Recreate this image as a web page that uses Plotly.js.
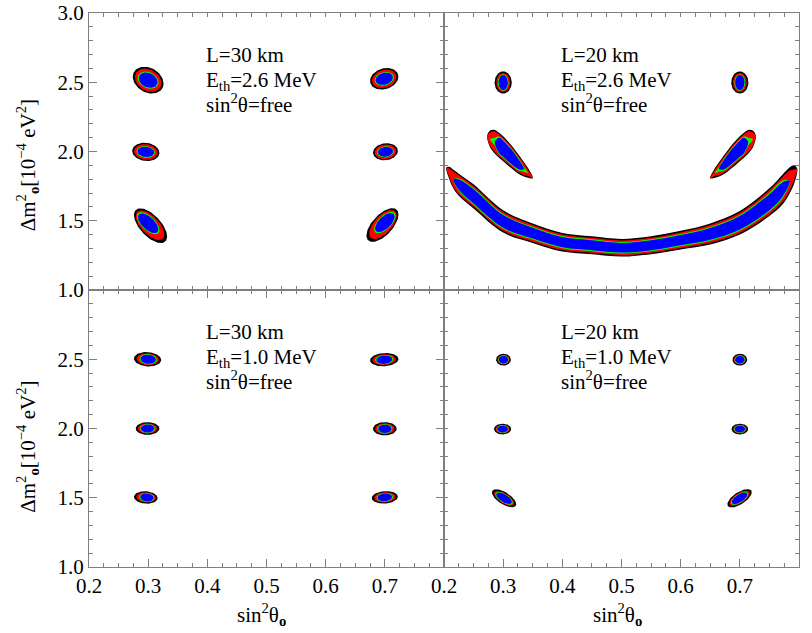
<!DOCTYPE html>
<html><head><meta charset="utf-8">
<script src="https://cdn.plot.ly/plotly-3.0.1.min.js"></script>
<style>body{margin:0;background:#fff}#chart{width:812px;height:633px}</style>
</head><body><div id="chart"></div>
<script>
// ---------------- DATA ----------------
// confidence levels, outermost first
const levelNames = ['99.73% CL', '99% CL', '95% CL', '90% CL'];
const levelColors = ['#000000', '#ff0000', '#00ff00', '#0000ff'];

// panel captions
const panelL = ['L=30 km', 'L=20 km', 'L=30 km', 'L=20 km'];
const panelE = ['2.6', '2.6', '1.0', '1.0'];

// axis ticks
const xTickVals = [0.2, 0.3, 0.4, 0.5, 0.6, 0.7, 0.8];
const xTickTextLeft = ['0.2', '0.3', '0.4', '0.5', '0.6', '0.7', ''];
const xTickTextRight = ['0.2', '0.3', '0.4', '0.5', '0.6', '0.7', '0.8'];
const yTickVals = [1.0, 1.5, 2.0, 2.5, 3.0];
const yTickTextTop = ['1.0', '1.5', '2.0', '2.5', '3.0'];
const yTickTextBottom = ['1.0', '1.5', '2.0', '2.5', ''];

// isolated allowed islands: [sin2θ, Δm², outer half-width in sin2θ, outer half-height in Δm², tilt corr, outer-centre shift sin2θ, outer-centre shift Δm²]
const islands_L30_E26 = [
  [0.300, 2.515, 0.026, 0.097, -0.25, 0.000, 0.000],
  [0.296, 1.997, 0.023, 0.066, -0.10, 0.000, 0.000],
  [0.300, 1.482, 0.028, 0.125, -0.62, 0.004, -0.018],
  [0.699, 2.525, 0.024, 0.078, 0.20, 0.000, 0.000],
  [0.701, 1.998, 0.021, 0.062, 0.10, 0.000, 0.000],
  [0.700, 1.487, 0.027, 0.122, 0.62, -0.004, -0.018]
];
const islands_L20_E26 = [
  [0.300, 2.498, 0.0145, 0.080, 0.00, 0, 0],
  [0.700, 2.498, 0.0145, 0.080, 0.00, 0, 0]
];
const islands_L30_E10 = [
  [0.300, 2.500, 0.023, 0.052, -0.10, -0.001, 0],
  [0.299, 2.000, 0.020, 0.046, 0.00, 0, 0],
  [0.298, 1.502, 0.020, 0.045, -0.10, -0.002, 0],
  [0.699, 2.497, 0.024, 0.048, 0.10, 0, 0],
  [0.700, 1.998, 0.020, 0.048, 0.00, 0, 0],
  [0.700, 1.503, 0.022, 0.045, 0.10, 0, 0]
];
const islands_L20_E10 = [
  [0.3005, 2.497, 0.0125, 0.043, 0.00, 0, 0],
  [0.299, 1.996, 0.0144, 0.039, 0.00, 0, 0],
  [0.3015, 1.496, 0.0205, 0.065, -0.65, 0, 0],
  [0.700, 2.497, 0.0124, 0.043, 0.00, 0, 0],
  [0.700, 1.996, 0.0140, 0.039, 0.00, 0, 0],
  [0.6995, 1.496, 0.0206, 0.066, 0.65, 0, 0]
];
// relative size of each CL contour (outer = 1) per panel, in sin2θ and Δm²
const relX_L30_E26 = [1, 0.86, 0.68, 0.61], relY_L30_E26 = [1, 0.86, 0.64, 0.57];
const relX_L20_E26 = [1, 0.80, 0.63, 0.55], relY_L20_E26 = [1, 0.86, 0.74, 0.68];
const relX_L30_E10 = [1, 0.82, 0.64, 0.56], relY_L30_E10 = [1, 0.82, 0.72, 0.64];
const relX_L20_E10 = [1, 0.82, 0.72, 0.64], relY_L20_E10 = [1, 0.82, 0.72, 0.64];
const shiftFrac = [1, 0.8, 0, 0];

// L=20 km, E=2.6 MeV : curved band (centre line + half-height per CL)
const crescentX = [0.204, 0.209, 0.216, 0.225, 0.25, 0.30, 0.35, 0.40, 0.45, 0.50, 0.55, 0.60, 0.65, 0.70, 0.75, 0.772, 0.784, 0.792, 0.797];
const crescentY = [1.885, 1.845, 1.80, 1.76, 1.676, 1.495, 1.41, 1.345, 1.323, 1.305, 1.323, 1.36, 1.405, 1.485, 1.634, 1.725, 1.79, 1.835, 1.875];
const crescentHalf = [
  [0, 0.045, 0.068, 0.080, 0.087, 0.080, 0.070, 0.067, 0.065, 0.064, 0.065, 0.067, 0.076, 0.085, 0.100, 0.108, 0.095, 0.065, 0],
  [0, 0.030, 0.055, 0.068, 0.074, 0.068, 0.059, 0.056, 0.054, 0.053, 0.054, 0.056, 0.064, 0.072, 0.086, 0.090, 0.072, 0.035, 0],
  [0, 0, 0, 0.045, 0.060, 0.053, 0.046, 0.044, 0.043, 0.041, 0.043, 0.044, 0.050, 0.057, 0.068, 0.065, 0, 0, 0],
  [0, 0, 0, 0.037, 0.052, 0.046, 0.039, 0.037, 0.036, 0.035, 0.036, 0.037, 0.043, 0.049, 0.058, 0.052, 0, 0, 0]
];
// L=20 km, E=2.6 MeV : elongated islands near Δm² = 2.0
const dropXLeft = [0.273, 0.278, 0.286, 0.293, 0.300, 0.306, 0.314, 0.321, 0.328, 0.335, 0.342, 0.350];
const dropXRight = [0.727, 0.722, 0.714, 0.707, 0.700, 0.694, 0.686, 0.679, 0.672, 0.665, 0.658, 0.650];
const dropY = [2.113, 2.090, 2.070, 2.045, 2.020, 1.995, 1.962, 1.930, 1.900, 1.872, 1.845, 1.807];
const dropHalf = [
  [0, 0.062, 0.086, 0.090, 0.090, 0.088, 0.083, 0.076, 0.066, 0.052, 0.035, 0],
  [0, 0.048, 0.075, 0.079, 0.079, 0.077, 0.072, 0.065, 0.055, 0.041, 0.022, 0],
  [0, 0, 0.030, 0.064, 0.066, 0.064, 0.060, 0.052, 0.040, 0.016, 0, 0],
  [0, 0, 0, 0.055, 0.058, 0.056, 0.052, 0.044, 0.031, 0, 0, 0]
];

// ---------------- BUILD ----------------
const FONT = '"Liberation Serif", "DejaVu Serif", serif';
const traces = [];

function ellipse(isl, k, rx, ry) {
  const [cx, cy, ax, ay, rho, dx, dy] = isl;
  const s = Math.sqrt(1 - rho * rho);
  const ox = cx + dx * shiftFrac[k], oy = cy + dy * shiftFrac[k];
  const X = [], Y = [];
  for (let i = 0; i <= 90; i++) {
    const t = 2 * Math.PI * i / 90;
    X.push(ox + ax * rx[k] * Math.cos(t));
    Y.push(oy + ay * ry[k] * (rho * Math.cos(t) + s * Math.sin(t)));
  }
  return [X, Y];
}
function band(xs, ys, hw) {
  const i0 = hw.findIndex(v => v > 0);
  const i1 = hw.length - 1 - [...hw].reverse().findIndex(v => v > 0);
  const a = Math.max(i0 - 1, 0), b = Math.min(i1 + 1, hw.length - 1);
  const X = [], Y = [];
  for (let i = a; i <= b; i++) { X.push(xs[i]); Y.push(ys[i] + hw[i]); }
  for (let i = b - 1; i > a; i--) { X.push(xs[i]); Y.push(ys[i] - hw[i]); }
  X.push(xs[a]); Y.push(ys[a]);
  return [X, Y];
}
function addShape(XY, k, xa, ya, spline) {
  traces.push({
    type: 'scatter', mode: 'lines', x: XY[0], y: XY[1], xaxis: xa, yaxis: ya,
    fill: 'toself', fillcolor: levelColors[k], name: levelNames[k],
    line: { width: 0, color: levelColors[k], shape: spline ? 'spline' : 'linear', smoothing: 1 },
    hoverinfo: 'skip', showlegend: false
  });
}

const panelIslands = [islands_L30_E26, islands_L20_E26, islands_L30_E10, islands_L20_E10];
const panelRelX = [relX_L30_E26, relX_L20_E26, relX_L30_E10, relX_L20_E10];
const panelRelY = [relY_L30_E26, relY_L20_E26, relY_L30_E10, relY_L20_E10];
const axesIds = [['x', 'y'], ['x2', 'y2'], ['x3', 'y3'], ['x4', 'y4']];

for (let p = 0; p < 4; p++) {
  const [xa, ya] = axesIds[p];
  panelIslands[p].forEach(isl => {
    for (let k = 0; k < 4; k++) addShape(ellipse(isl, k, panelRelX[p], panelRelY[p]), k, xa, ya, false);
  });
}
for (let k = 0; k < 4; k++) addShape(band(crescentX, crescentY, crescentHalf[k]), k, 'x2', 'y2', true);
for (let k = 0; k < 4; k++) addShape(band(dropXLeft, dropY, dropHalf[k]), k, 'x2', 'y2', true);
for (let k = 0; k < 4; k++) addShape(band(dropXRight, dropY, dropHalf[k]), k, 'x2', 'y2', true);

const axisColor = '#7f7f7f';
function xAxis(dom, anchor, text) {
  return {
    domain: dom, anchor: anchor, range: [0.2, 0.8], tickmode: 'array', tickvals: xTickVals,
    ticktext: text || xTickVals.map(() => ''), showticklabels: !!text,
    ticks: 'inside', ticklen: 8, tickwidth: 1, tickcolor: axisColor,
    minor: { tickmode: 'linear', tick0: 0.2, dtick: 0.025, ticks: 'inside', ticklen: 4, tickcolor: axisColor, tickwidth: 1 },
    showline: true, linecolor: axisColor, linewidth: 1, mirror: 'allticks',
    showgrid: false, zeroline: false, fixedrange: true,
    tickfont: { family: FONT, size: 21, color: '#000' }
  };
}
function yAxis(dom, anchor, text) {
  return {
    domain: dom, anchor: anchor, range: [1.0, 3.0], tickmode: 'array', tickvals: yTickVals,
    ticktext: text || yTickVals.map(() => ''), showticklabels: !!text,
    ticks: 'inside', ticklen: 8, tickwidth: 1, tickcolor: axisColor,
    minor: { tickmode: 'linear', tick0: 1.0, dtick: 0.1, ticks: 'inside', ticklen: 4, tickcolor: axisColor, tickwidth: 1 },
    showline: true, linecolor: axisColor, linewidth: 1, mirror: 'allticks',
    showgrid: false, zeroline: false, fixedrange: true,
    tickfont: { family: FONT, size: 21, color: '#000' }
  };
}

const annotations = [];
const capY = [2.695, 2.51, 2.345];
for (let p = 0; p < 4; p++) {
  const [xa, ya] = axesIds[p];
  const lines = [panelL[p], 'E<sub>th</sub>=' + panelE[p] + ' MeV', 'sin<sup>2</sup>θ=free'];
  lines.forEach((t, i) => annotations.push({
    text: t, xref: xa, yref: ya, x: 0.395, y: capY[i], xanchor: 'left', yanchor: 'middle',
    showarrow: false, align: 'left', font: { family: FONT, size: 21, color: '#000' }
  }));
}
const yTitle = 'Δm<sup>2</sup><sub><b>o</b></sub>[10<sup>−4</sup> eV<sup>2</sup>]';
const xTitle = 'sin<sup>2</sup>θ<sub><b>o</b></sub>';
annotations.push({ text: yTitle, xref: 'paper', yref: 'paper', x: -0.087, y: 0.7256, textangle: -90, showarrow: false, xanchor: 'center', yanchor: 'middle', font: { family: FONT, size: 21, color: '#000' } });
annotations.push({ text: yTitle, xref: 'paper', yref: 'paper', x: -0.087, y: 0.2175, textangle: -90, showarrow: false, xanchor: 'center', yanchor: 'middle', font: { family: FONT, size: 21, color: '#000' } });
annotations.push({ text: xTitle, xref: 'paper', yref: 'paper', x: 0.2423, y: -0.0866, showarrow: false, xanchor: 'center', yanchor: 'middle', font: { family: FONT, size: 21, color: '#000' } });
annotations.push({ text: xTitle, xref: 'paper', yref: 'paper', x: 0.7437, y: -0.0866, showarrow: false, xanchor: 'center', yanchor: 'middle', font: { family: FONT, size: 21, color: '#000' } });

const layout = {
  width: 812, height: 633,
  margin: { l: 89, r: 13, t: 13, b: 66 },
  paper_bgcolor: '#fff', plot_bgcolor: '#fff', showlegend: false,
  font: { family: FONT },
  xaxis: xAxis([0, 0.5], 'y', null),
  xaxis2: xAxis([0.5, 1], 'y2', null),
  xaxis3: xAxis([0, 0.5], 'y3', xTickTextLeft),
  xaxis4: xAxis([0.5, 1], 'y4', xTickTextRight),
  yaxis: yAxis([0.5, 1], 'x', yTickTextTop),
  yaxis2: yAxis([0.5, 1], 'x2', null),
  yaxis3: yAxis([0, 0.5], 'x3', yTickTextBottom),
  yaxis4: yAxis([0, 0.5], 'x4', null),
  annotations: annotations
};
Plotly.newPlot('chart', traces, layout, { staticPlot: true, displayModeBar: false });
</script>
</body></html>
